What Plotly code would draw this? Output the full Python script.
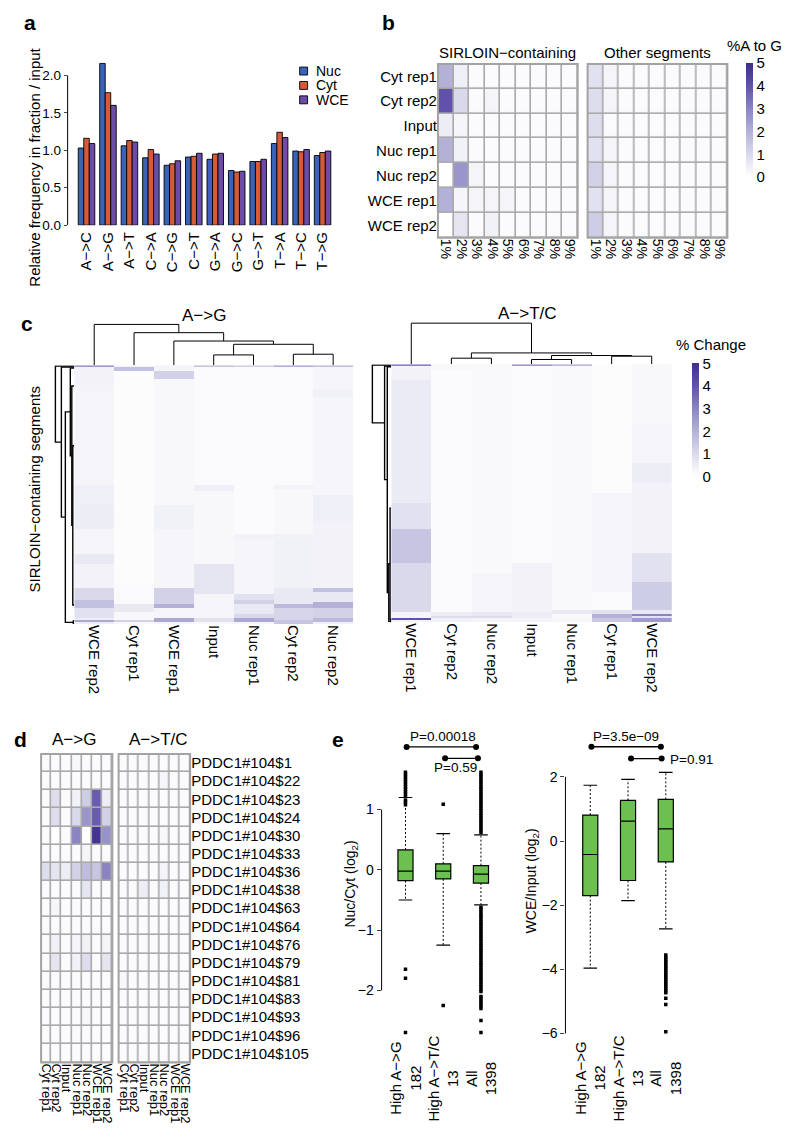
import plotly.graph_objects as go

# The page body has a default 8px margin; the figure is sized so that the page is 800x1144
PAGE_W, PAGE_H, BODY = 800, 1144, 8
W, H = PAGE_W - 2 * BODY, PAGE_H - 2 * BODY
FONT = "Liberation Sans, Arial, Helvetica, sans-serif"


def px(a):
    return (a - BODY) / W


def py(b):
    return 1 - (b - BODY) / H


def xdom(a, b):
    return [px(a), px(b)]


def ydom(top, bottom):
    return [py(bottom), py(top)]


# ---------------- Panel a data ----------------
mutations = ["A−>C", "A−>G", "A−>T", "C−>A", "C−>G", "C−>T",
             "G−>A", "G−>C", "G−>T", "T−>A", "T−>C", "T−>G"]
series_names = ["Nuc", "Cyt", "WCE"]
nuc = [1.03, 2.16, 1.06, 0.90, 0.80, 0.91, 0.88, 0.73, 0.85, 1.09, 0.99, 0.93]
cyt = [1.16, 1.77, 1.13, 1.01, 0.82, 0.92, 0.95, 0.71, 0.85, 1.24, 0.98, 0.97]
wce = [1.09, 1.60, 1.11, 0.95, 0.86, 0.96, 0.96, 0.72, 0.88, 1.17, 1.01, 0.99]
bar_colors = ["#3A63B8", "#D75A38", "#6B4DA8"]

# ---------------- Panel b data ----------------
b_rows = ["Cyt rep1", "Cyt rep2", "Input", "Nuc rep1", "Nuc rep2", "WCE rep1", "WCE rep2"]
b_cols = ["1%", "2%", "3%", "4%", "5%", "6%", "7%", "8%", "9%"]
b_sirloin = [
    [2.0, 0.45, 0.1, 0.1, 0.1, 0.1, 0.1, 0.1, 0.1],
    [4.0, 1.0, 0.1, 0.3, 0.1, 0.1, 0.1, 0.1, 0.1],
    [0.5, 0.25, 0.1, 0.1, 0.1, 0.1, 0.1, 0.1, 0.1],
    [2.0, 0.4, 0.1, 0.1, 0.1, 0.1, 0.1, 0.1, 0.1],
    [0.0, 2.6, 0.3, 0.1, 0.1, 0.1, 0.1, 0.1, 0.1],
    [2.0, 0.25, 0.3, 0.3, 0.3, 0.1, 0.1, 0.1, 0.1],
    [0.0, 0.7, 0.1, 0.4, 0.1, 0.1, 0.1, 0.1, 0.1],
]
b_other = [
    [0.8, 0.3, 0.1, 0.1, 0.1, 0.1, 0.1, 0.1, 0.1],
    [0.9, 0.3, 0.1, 0.1, 0.1, 0.1, 0.1, 0.1, 0.1],
    [0.9, 0.15, 0.1, 0.1, 0.1, 0.1, 0.1, 0.1, 0.1],
    [0.8, 0.3, 0.1, 0.1, 0.1, 0.1, 0.1, 0.1, 0.1],
    [1.2, 0.3, 0.1, 0.1, 0.1, 0.1, 0.1, 0.1, 0.1],
    [0.8, 0.3, 0.1, 0.1, 0.1, 0.1, 0.1, 0.1, 0.1],
    [1.3, 0.3, 0.1, 0.1, 0.1, 0.1, 0.1, 0.1, 0.1],
]

# ---------------- Panel c data (run-length: value, number of rows) ----------------
c_nrows = 130
ag_cols = ["WCE rep2", "Cyt rep1", "WCE rep1", "Input", "Nuc rep1", "Cyt rep2", "Nuc rep2"]
ag_runs = [
    [(2.5, 1), (0.35, 9), (0.3, 50), (0.45, 10), (0.5, 12), (0.3, 13), (0.6, 5), (0.35, 12),
     (1.0, 6), (1.6, 4), (0.8, 5), (0.5, 1), (2.2, 1), (0.5, 1)],
    [(0.3, 1), (1.6, 2), (0.08, 107), (0.15, 10), (0.6, 4), (0.2, 4), (1.2, 1), (0.2, 1)],
    [(0.3, 3), (1.2, 4), (0.2, 63), (0.4, 12), (0.25, 30), (1.2, 8), (2.0, 2), (0.3, 5), (2.2, 2), (0.3, 1)],
    [(1.5, 1), (0.15, 59), (0.45, 3), (0.2, 37), (0.7, 15), (0.3, 12), (0.8, 2), (0.2, 1)],
    [(1.2, 1), (0.12, 84), (0.35, 3), (0.25, 27), (0.8, 3), (1.2, 2), (0.6, 5), (1.0, 2), (2.2, 2), (0.3, 1)],
    [(2.0, 1), (0.15, 59), (0.35, 2), (0.2, 23), (0.4, 27), (0.6, 8), (1.8, 2), (1.1, 6), (1.5, 2)],
    [(1.6, 1), (0.25, 11), (0.4, 4), (0.25, 49), (0.45, 13), (0.35, 34), (1.6, 2), (0.6, 5), (2.0, 3),
     (1.2, 5), (1.8, 2), (0.4, 1)],
]
tc_cols = ["WCE rep1", "Cyt rep2", "Nuc rep2", "Input", "Nuc rep1", "Cyt rep1", "WCE rep2"]
tc_runs = [
    [(3.0, 1), (0.35, 7), (0.55, 62), (0.8, 13), (1.5, 17), (1.0, 25), (0.3, 3), (4.0, 1), (0.3, 1)],
    [(0.2, 3), (0.12, 122), (0.5, 2), (0.9, 1), (0.4, 2)],
    [(0.18, 105), (0.3, 20), (0.6, 2), (0.9, 1), (0.3, 2)],
    [(2.5, 1), (0.12, 99), (0.35, 25), (0.5, 3), (0.3, 2)],
    [(1.8, 1), (0.18, 123), (0.6, 2), (0.2, 4)],
    [(0.08, 65), (0.3, 50), (0.1, 9), (0.8, 2), (2.0, 2), (1.4, 2)],
    [(0.2, 30), (0.3, 20), (0.5, 10), (0.35, 35), (0.8, 15), (1.3, 14), (0.6, 2), (3.0, 1), (0.8, 1), (2.5, 2)],
]
# column dendrograms: merges (child_a, child_b, height); leaves are column indices
ag_col_merges = [(3, 4, 10.3), (5, 6, 11.0), (7, 8, 21.0), (2, 9, 24.3), (1, 10, 32.7), (0, 11, 41.0)]
tc_col_merges = [(1, 2, 6.0), (3, 4, 4.7), (5, 6, 8.0), (8, 9, 8.7), (7, 10, 11.3), (0, 11, 41.3)]
# row dendrograms: leaf row positions and merges
ag_row_leaves = [0, 0.5, 1, 10, 40, 120, 128, 129.5]
ag_row_merges = [(4, 5, 1.5), (3, 8, 2.5), (2, 9, 4.0), (6, 7, 1.0), (10, 11, 9.0), (1, 12, 13.0), (0, 13, 19.0)]
tc_row_leaves = [0, 0.5, 0.8, 72, 128, 128.6, 129.5]
tc_row_merges = [(3, 4, 1.2), (5, 6, 0.6), (7, 8, 2.5), (2, 9, 4.0), (1, 10, 6.7), (0, 11, 19.0)]

# ---------------- Panel d data ----------------
d_rows = ["PDDC1#104$1", "PDDC1#104$22", "PDDC1#104$23", "PDDC1#104$24", "PDDC1#104$30",
          "PDDC1#104$33", "PDDC1#104$36", "PDDC1#104$38", "PDDC1#104$63", "PDDC1#104$64",
          "PDDC1#104$76", "PDDC1#104$79", "PDDC1#104$81", "PDDC1#104$83", "PDDC1#104$93",
          "PDDC1#104$96", "PDDC1#104$105"]
d_cols = ["Cyt rep1", "Cyt rep2", "Input", "Nuc rep1", "Nuc rep2", "WCE rep1", "WCE rep2"]
d_ag = [
    [0.1, 0.1, 0.1, 0.2, 0.1, 0.1, 0.1],
    [0.1, 0.1, 0.1, 0.1, 0.1, 0.1, 0.1],
    [0.1, 0.9, 0.1, 0.4, 1.3, 3.8, 0.5],
    [0.1, 0.9, 0.1, 1.0, 2.6, 3.8, 1.2],
    [0.1, 0.0, 0.1, 3.0, 0.0, 4.8, 2.7],
    [0.1, 0.1, 0.1, 0.1, 0.3, 0.1, 0.1],
    [0.9, 0.7, 0.5, 1.2, 1.7, 1.5, 3.0],
    [0.1, 0.1, 0.1, 0.1, 0.7, 0.1, 0.1],
    [0.1, 0.25, 0.1, 0.1, 0.1, 0.1, 0.1],
    [0.1, 0.1, 0.1, 0.1, 0.1, 0.1, 0.1],
    [0.1, 0.4, 0.1, 0.3, 0.4, 0.1, 0.3],
    [0.1, 0.7, 0.1, 0.4, 0.9, 0.1, 0.7],
    [0.1, 0.1, 0.1, 0.1, 0.1, 0.1, 0.1],
    [0.1, 0.1, 0.1, 0.1, 0.1, 0.1, 0.1],
    [0.1, 0.1, 0.1, 0.1, 0.2, 0.1, 0.1],
    [0.1, 0.1, 0.1, 0.1, 0.1, 0.1, 0.1],
    [0.1, 0.1, 0.1, 0.1, 0.1, 0.1, 0.1],
]
d_tc = [
    [0.1, 0.1, 0.1, 0.1, 0.1, 0.1, 0.1],
    [0.1, 0.1, 0.1, 0.1, 0.25, 0.1, 0.1],
    [0.1, 0.1, 0.1, 0.1, 0.1, 0.1, 0.1],
    [0.1, 0.1, 0.1, 0.1, 0.1, 0.1, 0.1],
    [0.1, 0.1, 0.1, 0.1, 0.2, 0.1, 0.1],
    [0.1, 0.1, 0.1, 0.1, 0.1, 0.1, 0.1],
    [0.1, 0.1, 0.1, 0.1, 0.3, 0.1, 0.1],
    [0.1, 0.1, 0.5, 0.1, 0.4, 0.1, 0.1],
    [0.1, 0.1, 0.1, 0.1, 0.1, 0.1, 0.1],
    [0.1, 0.1, 0.1, 0.1, 0.1, 0.1, 0.1],
    [0.1, 0.1, 0.1, 0.1, 0.1, 0.1, 0.1],
    [0.1, 0.1, 0.1, 0.1, 0.1, 0.1, 0.1],
    [0.2, 0.1, 0.1, 0.1, 0.1, 0.1, 0.1],
    [0.1, 0.1, 0.1, 0.1, 0.1, 0.1, 0.1],
    [0.1, 0.1, 0.1, 0.1, 0.1, 0.1, 0.1],
    [0.1, 0.1, 0.1, 0.1, 0.1, 0.1, 0.1],
    [0.1, 0.1, 0.1, 0.1, 0.1, 0.1, 0.1],
]

# ---------------- Panel e data ----------------
e_groups = ["High A−>G<br>182", "High A−>T/C<br>13", "All<br>1398"]
nc_q1 = [-0.18, -0.15, -0.22]
nc_med = [-0.02, -0.02, -0.07]
nc_q3 = [0.33, 0.10, 0.07]
nc_lo = [-0.50, -1.25, -0.58]
nc_hi = [1.20, 0.60, 0.58]
nc_out = [
    [1.08, 1.12, 1.16, 1.22, 1.26, 1.30, 1.34, 1.38, 1.42, 1.46, 1.50, 1.54, 1.58, 1.62, -1.65, -1.80, -2.70],
    [1.09, -2.25],
    [0.62, 0.66, 0.70, 0.74, 0.78, 0.82, 0.86, 0.90, 0.94, 0.98, 1.02, 1.06, 1.10, 1.14, 1.18, 1.22,
     1.26, 1.30, 1.34, 1.38, 1.42, 1.46, 1.50, 1.54, 1.58, 1.62,
     -0.62, -0.66, -0.70, -0.74, -0.78, -0.82, -0.86, -0.90, -0.94, -0.98, -1.02, -1.06, -1.10,
     -1.14, -1.18, -1.22, -1.26, -1.30, -1.34, -1.38, -1.42, -1.46, -1.50, -1.54, -1.58, -1.62,
     -1.66, -1.70, -1.74, -1.78, -1.82, -1.86, -1.90, -1.94, -1.98, -2.02, -2.10, -2.14, -2.18,
     -2.22, -2.26, -2.30, -2.50, -2.70],
]
wi_q1 = [-1.70, -1.23, -0.65]
wi_med = [-0.42, 0.62, 0.38]
wi_q3 = [0.81, 1.27, 1.30]
wi_lo = [-3.96, -1.86, -2.74]
wi_hi = [1.74, 1.92, 2.14]
wi_out = [
    [],
    [],
    [-3.55, -3.62, -3.69, -3.76, -3.83, -3.90, -3.97, -4.04, -4.11, -4.18, -4.25, -4.32, -4.39,
     -4.46, -4.53, -4.60, -4.67, -4.73, -4.90, -5.10, -5.95],
]
nc_pvals = [(0, 2, "P=0.00018"), (1, 2, "P=0.59")]
wi_pvals = [(0, 2, "P=3.5e−09"), (1, 2, "P=0.91")]

# ---------------- helpers ----------------
PURPLE = [[0.0, "#FFFFFF"], [0.05, "#F6F6FA"], [0.1, "#EDEDF6"], [0.2, "#DAD9EC"], [0.4, "#B3B1D8"],
          [0.6, "#8A84C4"], [0.8, "#6151AD"], [1.0, "#3E2C8F"]]


def expand(runs):
    out = []
    for v, n in runs:
        out += [v] * n
    return out


def dendro(leaf_pos, merges):
    pos = list(leaf_pos)
    hts = [0.0] * len(leaf_pos)
    P, Hh = [], []
    for a, b, h in merges:
        pa, pb, ha, hb = pos[a], pos[b], hts[a], hts[b]
        P += [pa, pa, pb, pb, None]
        Hh += [ha, h, h, hb, None]
        pos.append((pa + pb) / 2)
        hts.append(h)
    return P, Hh


fig = go.Figure()
annotations = []
shapes = []


def ann(text, x, y, size=15, angle=0, xanchor="center", yanchor="middle", bold=False, align="center"):
    annotations.append(dict(text=("<b>%s</b>" % text) if bold else text, x=px(x), y=py(y), xref="paper",
                            yref="paper", showarrow=False, textangle=angle, xanchor=xanchor,
                            yanchor=yanchor, align=align, font=dict(size=size, family=FONT, color="black")))


layout = dict(width=W, height=H, margin=dict(l=0, r=0, t=0, b=0), paper_bgcolor="white",
              plot_bgcolor="rgba(0,0,0,0)", showlegend=False, barmode="group", bargap=0.23,
              bargroupgap=0.0, font=dict(family=FONT, size=15, color="black"))


def hidden_axis(domain, rng, anchor):
    return dict(domain=domain, range=rng, anchor=anchor, visible=False, showgrid=False,
                zeroline=False, fixedrange=True)


# ================= Panel a =================
for name, vals, col in zip(series_names, [nuc, cyt, wce], bar_colors):
    fig.add_trace(go.Bar(x=mutations, y=vals, name=name, xaxis="x", yaxis="y",
                         marker=dict(color=col, line=dict(color="black", width=0.9))))
layout["xaxis"] = dict(domain=xdom(66, 342), range=[-0.88, 11.9], type="category", anchor="y",
                       tickangle=-90, ticks="", showgrid=False, zeroline=False, showline=False,
                       tickfont=dict(size=15), ticklabelstandoff=3)
layout["yaxis"] = dict(domain=ydom(60, 226.7), range=[0, 2.211], anchor="x",
                       tickvals=[0, 0.5, 1, 1.5, 2], ticktext=["0.0", "0.5", "1.0", "1.5", "2.0"],
                       ticks="outside", ticklen=3, showgrid=False, zeroline=False, showline=False,
                       tickfont=dict(size=13.5), ticklabelstandoff=0)
shapes.append(dict(type="line", xref="paper", yref="y", x0=px(66), x1=px(66), y0=0, y1=2,
                   line=dict(color="black", width=1)))
ann("Relative frequency in fraction / input", 33, 168, size=15, angle=-90)
for i, (name, col) in enumerate(zip(series_names, bar_colors)):
    yc = 71.5 + 14.5 * i
    shapes.append(dict(type="rect", xref="paper", yref="paper", x0=px(299.5), x1=px(307.5),
                       y0=py(yc + 4), y1=py(yc - 4), fillcolor=col,
                       line=dict(color="black", width=0.9)))
    ann(name, 314, yc, size=14, xanchor="left")
ann("a", 28, 23, size=21, bold=True)

# ================= Panel b =================
fig.add_trace(go.Heatmap(z=b_sirloin, x=b_cols, y=b_rows, xaxis="x2", yaxis="y2", colorscale=PURPLE,
                         zmin=0, zmax=5, xgap=1.6, ygap=1.6, showscale=True,
                         colorbar=dict(x=px(748.5), xanchor="left", y=py(63.5), yanchor="top",
                                       len=114, lenmode="pixels", thickness=7, thicknessmode="pixels",
                                       outlinewidth=0, tickvals=[0, 1, 2, 3, 4, 5], ticks="",
                                       tickfont=dict(size=15), xpad=0, ypad=0)))
fig.add_trace(go.Heatmap(z=b_other, x=b_cols, y=b_rows, xaxis="x3", yaxis="y3", colorscale=PURPLE,
                         zmin=0, zmax=5, xgap=1.6, ygap=1.6, showscale=False))
for k, (xa, xb) in zip(["2", "3"], [(438.7, 579.3), (589.3, 730)]):
    layout["xaxis" + k] = dict(domain=xdom(xa, xb), anchor="y" + k, tickangle=90, ticks="",
                               tickmode="array", tickvals=b_cols, ticktext=b_cols, showgrid=False,
                               zeroline=False, tickfont=dict(size=14))
    layout["yaxis" + k] = dict(domain=ydom(64.3, 239.3), anchor="x" + k, autorange="reversed",
                               ticks="", tickmode="array", tickvals=b_rows, ticktext=b_rows,
                               showticklabels=(k == "2"), showgrid=False, zeroline=False,
                               tickfont=dict(size=15))
    shapes.append(dict(type="rect", xref="x%s domain" % k, yref="y%s domain" % k, x0=0, x1=1, y0=0, y1=1,
                       fillcolor="#A9A9A9", line=dict(width=0), layer="below"))
    shapes.append(dict(type="rect", xref="x%s domain" % k, yref="y%s domain" % k, x0=0, x1=1, y0=0, y1=1,
                       fillcolor="rgba(0,0,0,0)", line=dict(color="#A3A3A3", width=2), layer="above"))
ann("SIRLOIN−containing", 509, 53, size=15)
ann("Other segments", 660, 53, size=15)
ann("%A to G", 757, 46, size=15)
ann("b", 389, 23, size=21, bold=True)

# ================= Panel c =================
rows = list(range(c_nrows))
ag_z = [list(r) for r in zip(*[expand(r) for r in ag_runs])]
tc_z = [list(r) for r in zip(*[expand(r) for r in tc_runs])]
fig.add_trace(go.Heatmap(z=ag_z, x=ag_cols, y=rows, xaxis="x4", yaxis="y4", colorscale=PURPLE,
                         zmin=0, zmax=5, showscale=False))
fig.add_trace(go.Heatmap(z=tc_z, x=tc_cols, y=rows, xaxis="x5", yaxis="y5", colorscale=PURPLE,
                         zmin=0, zmax=5, showscale=True,
                         colorbar=dict(x=px(694.5), xanchor="left", y=py(366), yanchor="top",
                                       len=113, lenmode="pixels", thickness=7, thicknessmode="pixels",
                                       outlinewidth=0, tickvals=[0, 1, 2, 3, 4, 5], ticks="",
                                       tickfont=dict(size=15), xpad=0, ypad=0)))
c_geom = [("4", ag_cols, (72.7, 353.3), (367.7, 628.3)), ("5", tc_cols, (391.7, 674), (366.7, 626.7))]
for k, cols, (xa, xb), (ya, yb) in c_geom:
    layout["xaxis" + k] = dict(domain=xdom(xa, xb), anchor="y" + k, tickangle=90, ticks="",
                               tickmode="array", tickvals=cols, ticktext=cols, showgrid=False,
                               zeroline=False, tickfont=dict(size=15))
    layout["yaxis" + k] = dict(domain=ydom(ya, yb), anchor="x" + k, range=[c_nrows - 0.5, -0.5],
                               showticklabels=False, ticks="", showgrid=False, zeroline=False)

# column dendrograms
for k, merges, (xa, xb), (ya, yb) in [("6", ag_col_merges, (72.7, 353.3), (367.7, 628.3)),
                                      ("7", tc_col_merges, (391.7, 674), (366.7, 626.7))]:
    P, Hh = dendro(list(range(7)), merges)
    fig.add_trace(go.Scatter(x=P, y=Hh, mode="lines", xaxis="x" + k, yaxis="y" + k,
                             line=dict(color="black", width=1), hoverinfo="skip"))
    layout["xaxis" + k] = hidden_axis(xdom(xa, xb), [-0.5, 6.5], "y" + k)
    layout["yaxis" + k] = hidden_axis(ydom(ya - 46, ya), [0, 46], "x" + k)

# row dendrograms
for k, leaves, merges, xb, (ya, yb) in [("8", ag_row_leaves, ag_row_merges, 72.7, (367.7, 628.3)),
                                        ("9", tc_row_leaves, tc_row_merges, 391.7, (366.7, 626.7))]:
    P, Hh = dendro(leaves, merges)
    fig.add_trace(go.Scatter(x=Hh, y=P, mode="lines", xaxis="x" + k, yaxis="y" + k,
                             line=dict(color="black", width=1.4), hoverinfo="skip"))
    layout["xaxis" + k] = hidden_axis(xdom(xb - 23, xb), [23, 0], "y" + k)
    layout["yaxis" + k] = hidden_axis(ydom(ya, yb), [c_nrows - 0.5, -0.5], "x" + k)

ann("A−>G", 203, 318, size=17)
ann("A−>T/C", 529, 316, size=17)
ann("SIRLOIN−containing segments", 33, 493, size=15, angle=-90)
ann("% Change", 713, 347, size=15)
ann("c", 25, 326, size=21, bold=True)

# ================= Panel d =================
fig.add_trace(go.Heatmap(z=d_ag, x=d_cols, y=d_rows, xaxis="x10", yaxis="y10", colorscale=PURPLE,
                         zmin=0, zmax=5, xgap=1.6, ygap=1.6, showscale=False))
fig.add_trace(go.Heatmap(z=d_tc, x=d_cols, y=d_rows, xaxis="x11", yaxis="y11", colorscale=PURPLE,
                         zmin=0, zmax=5, xgap=1.6, ygap=1.6, showscale=False))
for k, (xa, xb) in [("10", (39.3, 111)), ("11", (117.3, 189.3))]:
    layout["xaxis" + k] = dict(domain=xdom(xa, xb), anchor="y" + k, tickangle=90, ticks="",
                               tickmode="array", tickvals=d_cols, ticktext=d_cols, showgrid=False,
                               zeroline=False, tickfont=dict(size=13))
    layout["yaxis" + k] = dict(domain=ydom(759.3, 1070), anchor="x" + k, autorange="reversed",
                               ticks="", tickmode="array", tickvals=d_rows, ticktext=d_rows,
                               showticklabels=(k == "11"), side="right", showgrid=False,
                               zeroline=False, tickfont=dict(size=15))
    shapes.append(dict(type="rect", xref="x%s domain" % k, yref="y%s domain" % k, x0=0, x1=1, y0=0, y1=1,
                       fillcolor="#A9A9A9", line=dict(width=0), layer="below"))
    shapes.append(dict(type="rect", xref="x%s domain" % k, yref="y%s domain" % k, x0=0, x1=1, y0=0, y1=1,
                       fillcolor="rgba(0,0,0,0)", line=dict(color="#A3A3A3", width=2), layer="above"))
ann("A−>G", 72.5, 745, size=17)
ann("A−>T/C", 157.7, 745, size=17)
ann("d", 19, 745, size=21, bold=True)

# ================= Panel e =================
GREEN = "#6CC04F"
e_pos = [1, 2, 3]
box_w = 0.4
cap_w = 0.36


def add_boxes(xk, yk, q1, med, q3, lo, hi, outs):
    for i in range(3):
        xpos = e_pos[i]
        fig.add_trace(go.Box(x=[xpos], q1=[q1[i]], median=[med[i]], q3=[q3[i]], lowerfence=[q1[i]],
                             upperfence=[q3[i]], width=box_w, whiskerwidth=0, fillcolor=GREEN,
                             line=dict(color="black", width=1.2), boxpoints=False,
                             xaxis=xk, yaxis=yk, hoverinfo="skip"))
        fig.add_trace(go.Scatter(x=[xpos, xpos, None, xpos, xpos], y=[q3[i], hi[i], None, q1[i], lo[i]],
                                 mode="lines", line=dict(color="black", width=1, dash="2px,2px"),
                                 xaxis=xk, yaxis=yk, hoverinfo="skip"))
        fig.add_trace(go.Scatter(x=[xpos - cap_w / 2, xpos + cap_w / 2, None, xpos - cap_w / 2, xpos + cap_w / 2],
                                 y=[hi[i], hi[i], None, lo[i], lo[i]], mode="lines",
                                 line=dict(color="black", width=1.2), xaxis=xk, yaxis=yk, hoverinfo="skip"))
        if outs[i]:
            fig.add_trace(go.Scatter(x=[xpos] * len(outs[i]), y=outs[i], mode="markers",
                                     marker=dict(symbol="square", size=3.5, color="black"),
                                     xaxis=xk, yaxis=yk, hoverinfo="skip"))


add_boxes("x12", "y12", nc_q1, nc_med, nc_q3, nc_lo, nc_hi, nc_out)
add_boxes("x13", "y13", wi_q1, wi_med, wi_q3, wi_lo, wi_hi, wi_out)

layout["xaxis12"] = dict(domain=xdom(382, 500), range=[0.368, 3.474], anchor="y12", visible=False)
layout["yaxis12"] = dict(domain=ydom(730, 1045), range=[-2.784, 2.405], anchor="x12",
                         tickvals=[-2, -1, 0, 1], ticks="outside", ticklen=4, showgrid=False,
                         zeroline=False, showline=False, tickfont=dict(size=14), ticklabelstandoff=0)
layout["xaxis13"] = dict(domain=xdom(567, 690), range=[0.342, 3.579], anchor="y13", visible=False)
layout["yaxis13"] = dict(domain=ydom(730, 1045), range=[-6.13, 3.622], anchor="x13",
                         tickvals=[-6, -4, -2, 0, 2], ticks="outside", ticklen=4, showgrid=False,
                         zeroline=False, showline=False, tickfont=dict(size=14), ticklabelstandoff=0)
shapes.append(dict(type="line", xref="paper", yref="y12", x0=px(382), x1=px(382), y0=-2, y1=1,
                   line=dict(color="black", width=1)))
shapes.append(dict(type="line", xref="paper", yref="y13", x0=px(567), x1=px(567), y0=-6, y1=2,
                   line=dict(color="black", width=1)))


def bracket(xk, yk, a, b, yv, off_a, off_b):
    xa_, xb_ = e_pos[a] + off_a, e_pos[b] + off_b
    fig.add_trace(go.Scatter(x=[xa_, xb_], y=[yv, yv], mode="lines+markers",
                             line=dict(color="black", width=1.3),
                             marker=dict(symbol="circle", size=6, color="black"),
                             xaxis=xk, yaxis=yk, hoverinfo="skip"))


# brackets: big one between first and last group, small one between middle and last
bracket("x12", "y12", nc_pvals[0][0], nc_pvals[0][1], 2.04, 0.03, -0.13)
bracket("x12", "y12", nc_pvals[1][0], nc_pvals[1][1], 1.85, 0.05, -0.08)
bracket("x13", "y13", wi_pvals[0][0], wi_pvals[0][1], 2.94, 0.03, -0.13)
bracket("x13", "y13", wi_pvals[1][0], wi_pvals[1][1], 2.57, 0.08, -0.11)
annotations.append(dict(text=nc_pvals[0][2], x=2.0, y=2.21, xref="x12", yref="y12", showarrow=False,
                        font=dict(size=13.5)))
annotations.append(dict(text=nc_pvals[1][2], x=2.32, y=1.70, xref="x12", yref="y12", showarrow=False,
                        font=dict(size=13.5)))
annotations.append(dict(text=wi_pvals[0][2], x=1.95, y=3.25, xref="x13", yref="y13", showarrow=False,
                        font=dict(size=13.5)))
annotations.append(dict(text=wi_pvals[1][2], x=3.06, y=2.55, xref="x13", yref="y13", showarrow=False,
                        xanchor="left", font=dict(size=13.5)))
for xk in ["x12", "x13"]:
    for i, g in enumerate(e_groups):
        annotations.append(dict(text=g, x=e_pos[i], y=py(1086), xref=xk, yref="paper", showarrow=False,
                                textangle=-90, xanchor="center", yanchor="middle", align="center",
                                font=dict(size=15)))
ann("Nuc/Cyt (log<sub>2</sub>)", 351, 890, size=14, angle=-90)
ann("WCE/Input (log<sub>2</sub>)", 533, 887, size=14, angle=-90)
ann("e", 338, 745, size=21, bold=True)

layout["annotations"] = annotations
layout["shapes"] = shapes
fig.update_layout(**layout)
fig.write_html("out.html", config={"displayModeBar": False})
